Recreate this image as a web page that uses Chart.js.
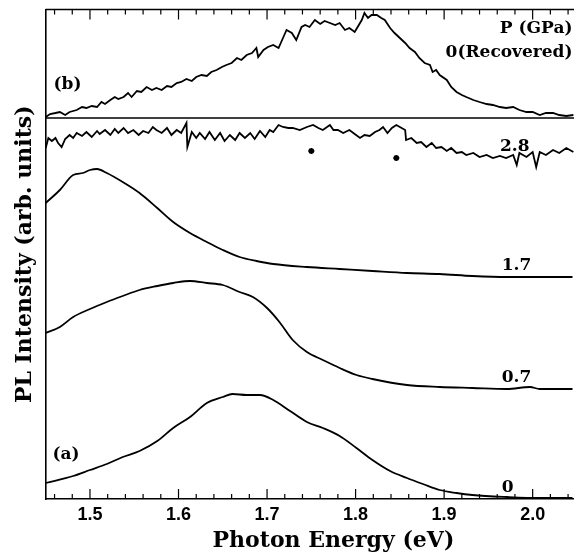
<!DOCTYPE html>
<html><head><meta charset="utf-8">
<script src="https://cdn.jsdelivr.net/npm/chart.js@4.4.1/dist/chart.umd.min.js"></script>
<style>
html,body{margin:0;padding:0;background:#fff;overflow:hidden;}
#wrap{position:relative;width:640px;height:554px;}
</style></head><body>
<div id="wrap"><canvas id="c"></canvas></div>
<script>
// x-axis tick marks and labels (eV)
const tickValues = [1.5, 1.6, 1.7, 1.8, 1.9, 2.0];
const tickLabels = ['1.5', '1.6', '1.7', '1.8', '1.9', '2.0'];

// (b) recovered sample, 0 GPa  (top panel)
const eRec = [1.450,1.455,1.461,1.466,1.472,1.477,1.485,1.491,1.496,1.502,
              1.508,1.513,1.517,1.523,1.528,1.532,1.538,1.543,1.547,1.553,
              1.558,1.564,1.570,1.575,1.581,1.587,1.592,1.598,1.603,1.609,
              1.615,1.620,1.626,1.632,1.637,1.643,1.649,1.654,1.660,1.666,
              1.671,1.677,1.683,1.688,1.690,1.696,1.701,1.707,1.713,1.718,
              1.722,1.728,1.733,1.739,1.743,1.748,1.754,1.760,1.765,1.771,
              1.777,1.782,1.788,1.793,1.799,1.803,1.807,1.810,1.814,1.818,
              1.824,1.829,1.833,1.839,1.844,1.850,1.856,1.861,1.867,1.872,
              1.878,1.884,1.887,1.891,1.895,1.903,1.908,1.914,1.920,1.925,
              1.933,1.940,1.948,1.955,1.963,1.970,1.978,1.985,1.993,2.000,
              2.008,2.015,2.023,2.030,2.038,2.046];
const iRec = [382,385,386,387,384,387,389,392,391,393,
              392,397,395,399,402,400,402,406,402,408,
              407,412,409,411,409,413,412,416,417,420,
              418,422,424,423,427,429,432,434,436,441,
              439,444,446,451,442,449,452,454,451,461,
              469,466,459,472,474,472,479,475,478,476,
              474,476,469,471,467,473,479,486,481,484,
              484,481,479,471,466,461,456,451,447,441,
              436,434,427,429,424,419,412,407,404,402,
              399,397,395,394,392,391,392,389,387,387,
              384,386,386,384,383,384];

// (a) 2.8 GPa
const e28 = [1.450,1.453,1.457,1.461,1.464,1.468,1.472,1.477,1.481,1.485,
             1.491,1.496,1.502,1.508,1.511,1.517,1.523,1.528,1.532,1.538,
             1.543,1.549,1.555,1.560,1.566,1.571,1.575,1.581,1.587,1.592,
             1.598,1.603,1.609,1.610,1.615,1.620,1.624,1.630,1.635,1.641,
             1.647,1.652,1.658,1.664,1.669,1.675,1.681,1.686,1.692,1.698,
             1.703,1.707,1.713,1.718,1.724,1.729,1.737,1.745,1.752,1.758,
             1.763,1.771,1.775,1.780,1.786,1.793,1.799,1.805,1.810,1.816,
             1.822,1.827,1.831,1.836,1.841,1.846,1.850,1.856,1.857,1.863,
             1.869,1.874,1.880,1.886,1.891,1.897,1.903,1.908,1.914,1.920,
             1.925,1.933,1.940,1.948,1.955,1.963,1.970,1.978,1.982,1.985,
             1.993,2.000,2.004,2.008,2.015,2.023,2.030,2.038,2.046];
const i28 = [351,361,358,361,356,352,360,364,361,366,
             363,367,362,368,365,369,364,370,366,371,
             366,369,364,368,366,372,369,366,371,364,
             369,366,376,352,367,361,366,360,367,359,
             366,358,364,359,366,361,366,360,368,362,
             369,367,374,372,371,371,369,372,374,371,
             369,374,369,369,366,369,365,361,364,363,
             367,369,372,366,371,374,372,369,359,361,
             356,357,352,356,351,352,348,351,346,347,
             344,346,342,344,341,343,341,344,334,346,
             342,347,332,347,344,349,346,351,347];

// (a) 1.7 GPa
const e17 = [1.450,1.466,1.481,1.492,1.500,1.508,1.519,1.537,1.556,1.576,
             1.594,1.613,1.632,1.650,1.669,1.688,1.707,1.745,1.782,1.819,
             1.858,1.895,1.932,1.971,2.008,2.045];
const i17 = [296,309,324,326,329,330,326,317,306,291,
             277,266,257,249,242,238,235,232,230,228,
             226,225,223,222,222,222];

// (a) 0.7 GPa
const e07 = [1.450,1.466,1.481,1.500,1.519,1.537,1.556,1.576,1.594,1.613,
             1.632,1.650,1.669,1.684,1.700,1.714,1.729,1.745,1.763,1.782,
             1.801,1.819,1.858,1.895,1.932,1.971,1.997,2.008,2.045];
const i07 = [166,172,182,190,197,203,209,213,216,218,
             216,214,207,202,191,177,159,147,139,131,
             124,120,114,112,111,110,112,110,110];

// (a) 0 GPa
const e0 = [1.450,1.481,1.500,1.519,1.537,1.556,1.576,1.594,1.613,1.632,
            1.650,1.661,1.677,1.692,1.707,1.726,1.745,1.763,1.782,1.801,
            1.819,1.839,1.858,1.876,1.895,1.914,1.932,1.971,2.008,2.045];
const i0 = [16,23,29,35,42,48,58,71,82,96,
            102,105,104,104,99,88,77,71,63,51,
            39,28,21,15,9,6,4,2,1,1];

// asterisks on the 2.8 GPa trace
const eStar = [1.750, 1.846];
const iStar = [348, 341];

// level separating panel (b) from panel (a)
const panelDivider = 381;

const SERIF = 'DejaVu Serif';
const pts = (e, v) => e.map((x, i) => ({x, y: v[i]}));
const lineDs = (label, e, v, smooth) => ({label, data: pts(e, v), borderColor: '#000',
  borderWidth: 1.8, pointRadius: 0, tension: 0, fill: false,
  cubicInterpolationMode: smooth ? 'monotone' : 'default'});

const annotations = [
  {text: 'P (GPa)',      e: 2.045, v: 465.7, align: 'right',  base: 'alphabetic'},
  {text: '0(Recovered)', e: 2.045, v: 441.7, align: 'right',  base: 'alphabetic'},
  {text: '2.8',          e: 1.963, v: 348,   align: 'left',   base: 'alphabetic'},
  {text: '1.7',          e: 1.965, v: 229,   align: 'left',   base: 'alphabetic'},
  {text: '0.7',          e: 1.965, v: 117,   align: 'left',   base: 'alphabetic'},
  {text: '0',            e: 1.965, v: 7,     align: 'left',   base: 'alphabetic'},
  {text: '(b)',          e: 1.4746, v: 414,  align: 'center', base: 'middle'},
  {text: '(a)',          e: 1.473, v: 44,    align: 'center', base: 'middle'}
];

const minorTicks = [];
for (let k = 73; k <= 105; k++) minorTicks.push(k / 50);

const framePlugin = {
  id: 'frame',
  afterDatasetsDraw(chart) {
    const {ctx, chartArea: a, scales: {x, y}} = chart;
    ctx.save();
    ctx.strokeStyle = '#000';
    ctx.lineWidth = 1.6;
    const seg = (x1, y1, x2, y2) => { ctx.beginPath(); ctx.moveTo(x1, y1); ctx.lineTo(x2, y2); ctx.stroke(); };
    seg(a.left, a.top, a.right, a.top);
    const yd = y.getPixelForValue(panelDivider);
    seg(a.left, yd, a.right, yd);
    ctx.lineWidth = 1.2;
    for (const v of minorTicks) {
      const px = x.getPixelForValue(v);
      const major = tickValues.some(t => Math.abs(t - v) < 1e-6) || Math.abs(v - 2.1) < 1e-6;
      const len = major ? 10 : 5;
      seg(px, a.bottom, px, a.bottom - len);
      seg(px, a.top, px, a.top + len);
    }
    ctx.fillStyle = '#000';
    ctx.font = 'bold 17px "' + SERIF + '"';
    for (const L of annotations) {
      ctx.textAlign = L.align;
      ctx.textBaseline = L.base;
      ctx.fillText(L.text, x.getPixelForValue(L.e), y.getPixelForValue(L.v));
    }
    ctx.restore();
  }
};

new Chart(document.getElementById('c'), {
  type: 'line',
  data: {
    datasets: [
      lineDs('0 (Recovered)', eRec, iRec, false),
      lineDs('2.8', e28, i28, false),
      lineDs('1.7', e17, i17, true),
      lineDs('0.7', e07, i07, true),
      lineDs('0', e0, i0, true),
      {label: '*', data: pts(eStar, iStar), showLine: false, pointStyle: 'star',
       pointRadius: 3, borderWidth: 1.8, borderColor: '#000', backgroundColor: '#000'}
    ]
  },
  options: {
    responsive: true, maintainAspectRatio: false, animation: false, devicePixelRatio: 1,
    layout: {padding: {left: 12.5, top: 9.5, right: 18.8, bottom: 0}},
    plugins: {legend: {display: false}, tooltip: {enabled: false}},
    scales: {
      x: {
        type: 'linear', min: 1.45, max: 2.1,
        afterBuildTicks: s => { s.ticks = tickValues.map(v => ({value: v})); },
        ticks: {
          callback: v => tickLabels[tickValues.findIndex(t => Math.abs(t - v) < 1e-6)],
          font: {family: 'Liberation Sans', size: 18, weight: 'bold'}, color: '#000',
          padding: 5, maxRotation: 0, autoSkip: false
        },
        grid: {display: false, drawTicks: false},
        border: {display: true, color: '#000', width: 1.6},
        title: {display: true, text: 'Photon Energy (eV)', color: '#000',
                font: {family: SERIF, size: 22, weight: 'bold'}, padding: {top: -3, bottom: 0}}
      },
      y: {
        min: 0, max: 489.5,
        ticks: {display: false},
        grid: {display: false, drawTicks: false},
        border: {display: true, color: '#000', width: 1.6},
        title: {display: true, text: 'PL Intensity (arb. units)', color: '#000',
                font: {family: SERIF, size: 22, weight: 'bold'}, padding: {top: 0, bottom: 6.8}}
      }
    }
  },
  plugins: [framePlugin]
});
</script>
</body></html>
